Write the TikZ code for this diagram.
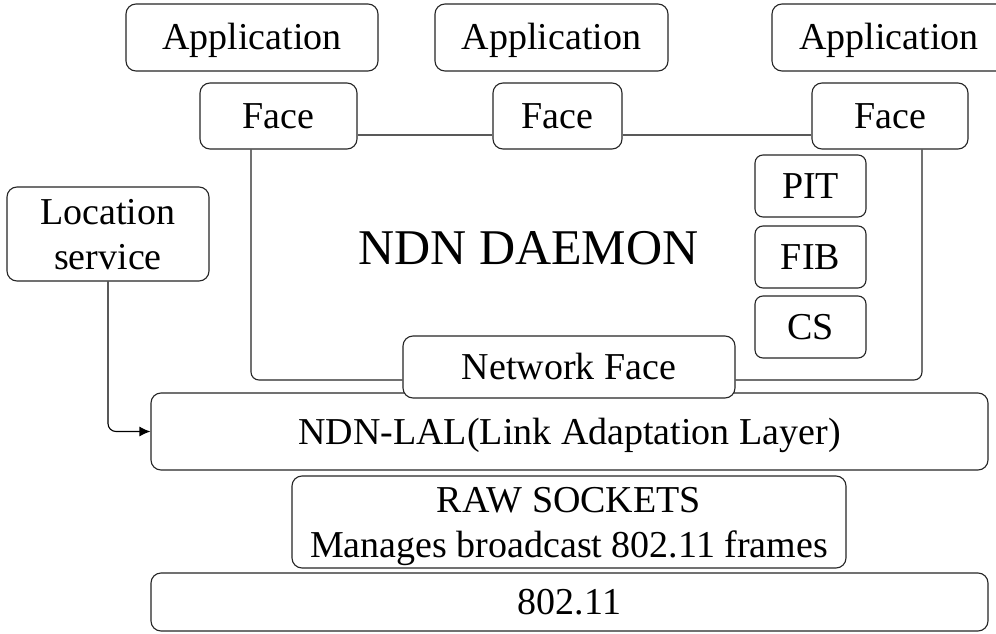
\documentclass[tikz,border=0pt]{standalone}
\usepackage{fontspec}
\setmainfont{Liberation Serif}
\usetikzlibrary{arrows.meta}
\tikzset{
  box/.style={draw=black!85, line width=1.1pt, rounded corners=10pt, fill=white,
    inner sep=0pt, text height=25pt, text depth=0pt,
    font=\fontsize{38pt}{45pt}\selectfont},
  twoline/.style={box, text height=25pt, text depth=45pt},
  conn/.style={draw=black!65, line width=1.1pt},
  outline/.style={draw=black!85, line width=1.1pt, rounded corners=8pt},
}
\begin{document}
\begin{tikzpicture}[x=1pt,y=-1pt]
\clip (0,0) rectangle (996,634);
\fill[white] (0,0) rectangle (996,634);
% applications
\node[box, minimum width=252pt, minimum height=67pt] (app1) at (252,37.5) {Application};
\node[box, minimum width=233pt, minimum height=67pt] (app2) at (551.5,37.5) {Application};
\node[box, minimum width=234pt, minimum height=67pt] (app3) at (889,37.5) {Application};
% faces
\node[box, minimum width=157pt, minimum height=66pt] (f1) at (278.5,116) {Face};
\node[box, minimum width=129pt, minimum height=66pt] (f2) at (557.5,116) {Face};
\node[box, minimum width=156pt, minimum height=66pt] (f3) at (890,116) {Face};
\draw[conn] ([yshift=-19pt]f1.east) -- ([yshift=-19pt]f2.west);
\draw[conn] ([yshift=-19pt]f2.east) -- ([yshift=-19pt]f3.west);
% tables
\node[box, rounded corners=8pt, minimum width=111pt, minimum height=62pt] (pit) at (810.5,186) {PIT};
\node[box, rounded corners=8pt, minimum width=111pt, minimum height=62pt] (fib) at (810.5,257) {FIB};
\node[box, rounded corners=8pt, minimum width=111pt, minimum height=62pt] (cs) at (810.5,327) {CS};
% daemon label
\node[anchor=base, inner sep=0pt, font=\fontsize{50pt}{60pt}\selectfont] (daemon) at (528.5,264) {NDN DAEMON};
% location service
\node[twoline, minimum width=202pt, minimum height=94pt] (loc) at (108,234)
  {\begin{tabular}[t]{@{}c@{}}Location\\service\end{tabular}};
% lower layers
\node[box, minimum width=837pt, minimum height=77pt] (lal) at (569.5,431.5) {NDN-LAL(Link Adaptation Layer)};
\node[box, minimum width=332pt, minimum height=62pt] (nf) at (569,367) {Network Face};
\draw[outline] ([xshift=-27.5pt]f1.south) |- ([yshift=-13pt]nf.west);
\draw[outline] ([xshift=32pt]f3.south) |- ([yshift=-13pt]nf.east);
\node[twoline, minimum width=554pt, minimum height=92pt] (raw) at (569,522)
  {\begin{tabular}[t]{@{}c@{}}RAW SOCKETS\\Manages broadcast 802.11 frames\end{tabular}};
\node[box, minimum width=837pt, minimum height=58pt] (wifi) at (569.5,602) {802.11};
% arrow
\draw[line width=1.1pt, rounded corners=8pt, -{Latex[length=11pt,width=10pt]}] (loc.south) |- (lal.west);
\end{tikzpicture}
\end{document}
